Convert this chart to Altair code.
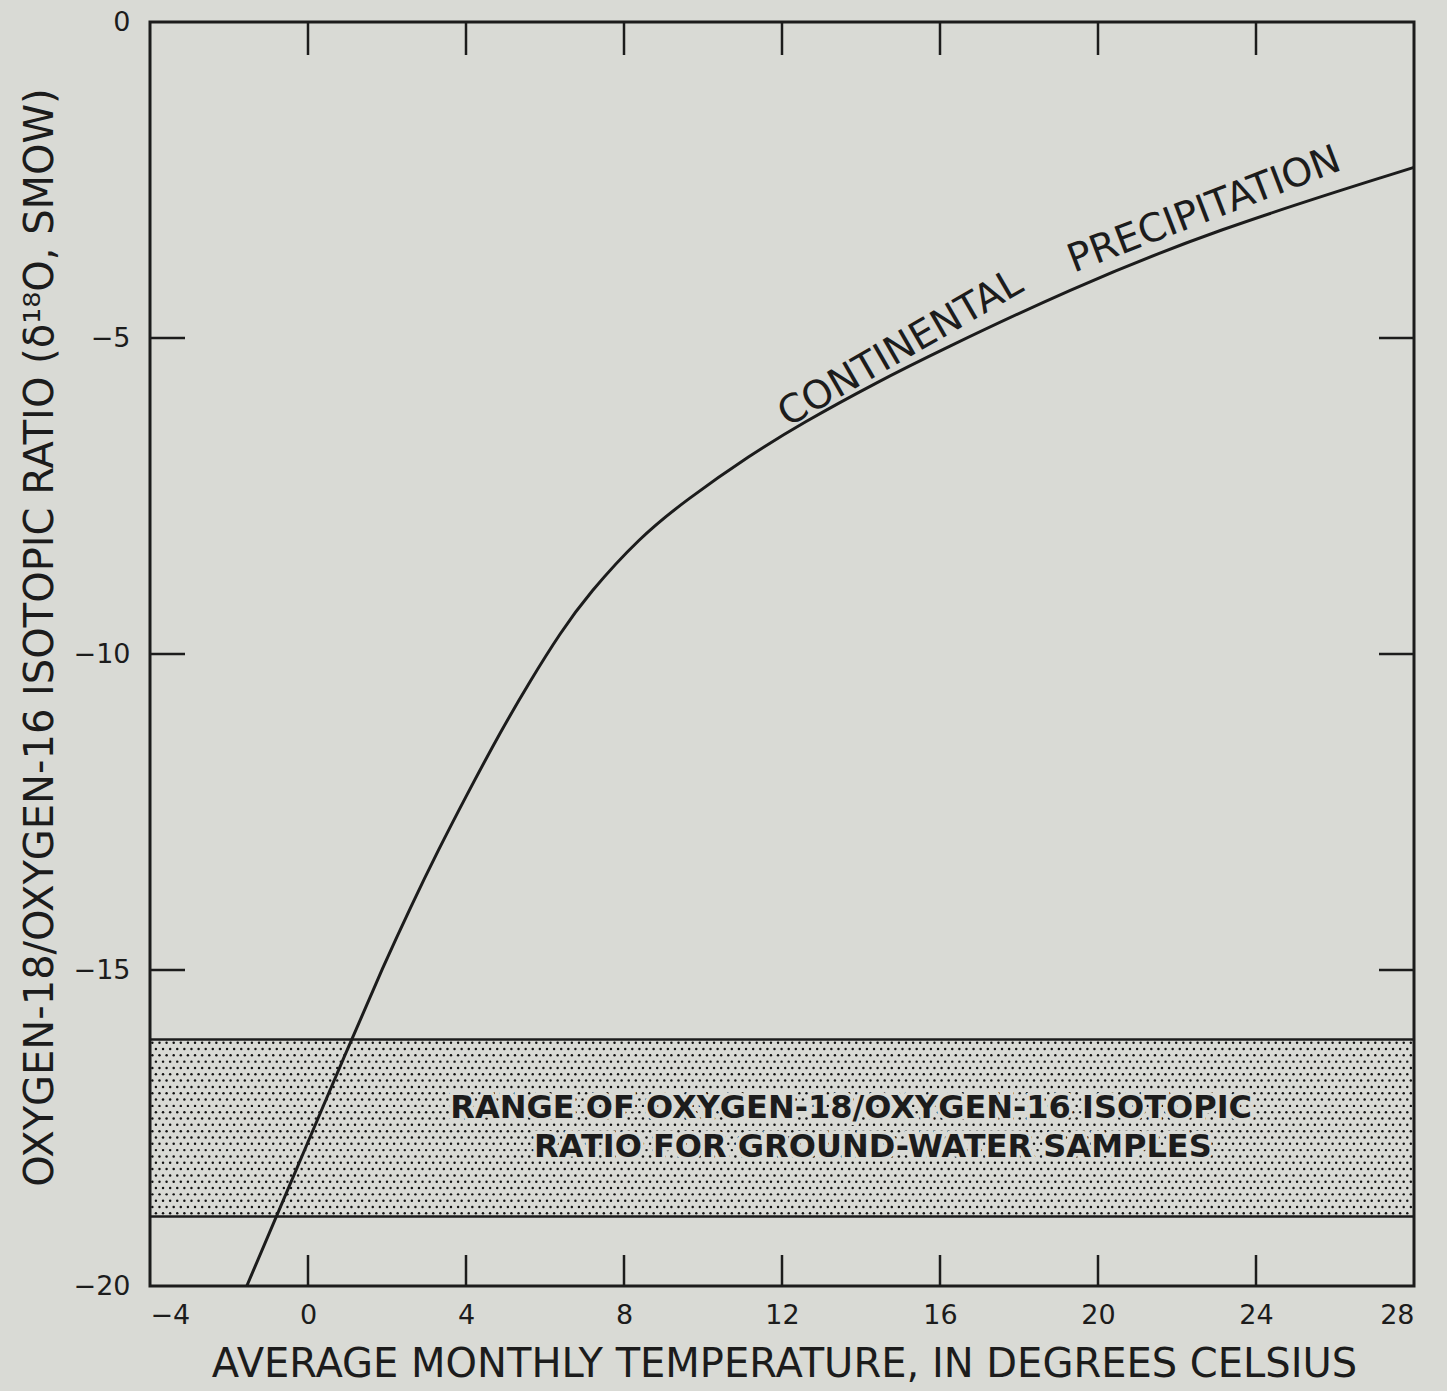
import altair as alt
import pandas as pd
import numpy as np

# ---- data ----
curve_temp = [-1.55, -0.8, 1.1, 1.9, 2.6, 3.3, 4.0, 4.9, 5.6, 6.4, 7.1, 8.4, 9.6,
              11.2, 12.5, 14.4, 16.0, 19.2, 22.9, 28.0]
curve_o18 = [-20.0, -18.9, -16.1, -14.95, -14.0, -13.1, -12.25, -11.2, -10.45, -9.65,
             -9.05, -8.15, -7.55, -6.85, -6.35, -5.7, -5.2, -4.25, -3.3, -2.3]
band_top = -16.1
band_bottom = -18.9
x_label_values = [-4, 0, 4, 8, 12, 16, 20, 24, 28]
y_label_values = [0, -5, -10, -15, -20]
x_inner_ticks = [0, 4, 8, 12, 16, 20, 24]
y_inner_ticks = [-5, -10, -15]

curve_words = ["CONTINENTAL", "PRECIPITATION"]
curve_word_x = [15.15, 22.8]
curve_word_y = [-5.33, -3.15]
curve_word_angle = [330, 339]

band_lines = ["RANGE OF OXYGEN-18/OXYGEN-16 ISOTOPIC", "RATIO FOR GROUND-WATER SAMPLES"]
band_line_x = [13.75, 14.3]
band_line_y = [-17.18, -17.8]

W, H = 1264, 1264
BG = "#d9dad5"
INK = "#1c1c1c"
FONT = "DejaVu Sans"

xs = alt.Scale(domain=[-4, 28], nice=False, zero=False)
ys = alt.Scale(domain=[-20, 0], nice=False, zero=False)

curve_df = pd.DataFrame({"t": curve_temp, "d": curve_o18})

# stipple texture for the band
rows = np.arange(band_top - 0.05, band_bottom, -0.1)
dots = []
for k, yy in enumerate(rows):
    off = 0.09 if k % 2 else 0.0
    for xx in np.arange(-4 + 0.06 + off, 28, 0.18):
        dots.append((xx, yy))
dots_df = pd.DataFrame(dots, columns=["t", "d"])

x_axis = alt.Axis(values=x_label_values, format="d", ticks=False, domain=False, grid=False,
                  labelFont=FONT, labelFontSize=27, labelColor=INK, labelPadding=16,
                  title="AVERAGE MONTHLY TEMPERATURE, IN DEGREES CELSIUS",
                  titleFont=FONT, titleFontSize=40, titleFontWeight="normal", titleColor=INK,
                  titleX=W / 2 + 2, titleY=90, titleBaseline="alphabetic", titleAlign="center")
y_axis = alt.Axis(values=y_label_values, format="d", ticks=False, domain=False, grid=False,
                  labelFont=FONT, labelFontSize=27, labelColor=INK, labelPadding=20,
                  title="OXYGEN-18/OXYGEN-16 ISOTOPIC RATIO (δ¹⁸O, SMOW)",
                  titleFont=FONT, titleFontSize=40, titleFontWeight="normal", titleColor=INK,
                  titleAngle=270, titleX=-98, titleY=615, titleBaseline="alphabetic",
                  titleAlign="center")

dots_layer = alt.Chart(dots_df).mark_point(filled=True, size=6, color="#111111", opacity=1).encode(
    x=alt.X("t:Q", scale=xs, axis=x_axis), y=alt.Y("d:Q", scale=ys, axis=y_axis))

band_df = pd.DataFrame({"d": [band_top, band_bottom]})
band_rules = alt.Chart(band_df).mark_rule(color=INK, strokeWidth=2.5).encode(
    y=alt.Y("d:Q", scale=ys), x=alt.value(0), x2=alt.value(W))

curve = alt.Chart(curve_df).mark_line(color=INK, strokeWidth=3, interpolate="basis").encode(
    x=alt.X("t:Q", scale=xs), y=alt.Y("d:Q", scale=ys))

xt = pd.DataFrame({"t": x_inner_ticks})
yt = pd.DataFrame({"d": y_inner_ticks})
tick_bottom = alt.Chart(xt).mark_rule(color=INK, strokeWidth=2.5).encode(
    x=alt.X("t:Q", scale=xs), y=alt.value(H), y2=alt.value(H - 31))
tick_top = alt.Chart(xt).mark_rule(color=INK, strokeWidth=2.5).encode(
    x=alt.X("t:Q", scale=xs), y=alt.value(0), y2=alt.value(33))
tick_left = alt.Chart(yt).mark_rule(color=INK, strokeWidth=2.5).encode(
    y=alt.Y("d:Q", scale=ys), x=alt.value(0), x2=alt.value(35))
tick_right = alt.Chart(yt).mark_rule(color=INK, strokeWidth=2.5).encode(
    y=alt.Y("d:Q", scale=ys), x=alt.value(W - 35), x2=alt.value(W))

words_df = pd.DataFrame({"w": curve_words, "t": curve_word_x, "d": curve_word_y})
word_layers = []
for i in range(len(curve_words)):
    word_layers.append(
        alt.Chart(words_df.iloc[[i]]).mark_text(
            font=FONT, fontSize=39, fontWeight="normal", color=INK, align="center",
            baseline="alphabetic", angle=int(curve_word_angle[i])).encode(
            x=alt.X("t:Q", scale=xs), y=alt.Y("d:Q", scale=ys), text="w:N"))

band_text_df = pd.DataFrame({"s": band_lines, "t": band_line_x, "d": band_line_y})
band_halo = alt.Chart(band_text_df).mark_text(
    font=FONT, fontSize=32, fontWeight="bold", color=BG, stroke=BG, strokeWidth=7,
    align="center", baseline="middle").encode(
    x=alt.X("t:Q", scale=xs), y=alt.Y("d:Q", scale=ys), text="s:N")
band_text = alt.Chart(band_text_df).mark_text(
    font=FONT, fontSize=32, fontWeight="bold", color=INK,
    align="center", baseline="middle").encode(
    x=alt.X("t:Q", scale=xs), y=alt.Y("d:Q", scale=ys), text="s:N")

chart = alt.layer(dots_layer, band_halo, band_text, band_rules, curve,
                  tick_bottom, tick_top, tick_left, tick_right, *word_layers).properties(
    width=W, height=H,
    autosize=alt.AutoSizeParams(type="none"),
    padding={"left": 150, "top": 22, "right": 33, "bottom": 105},
    background=BG,
).configure_view(stroke=INK, strokeWidth=3, fill=BG)

chart.save("out.html", embed_options={"renderer": "svg", "actions": False})
